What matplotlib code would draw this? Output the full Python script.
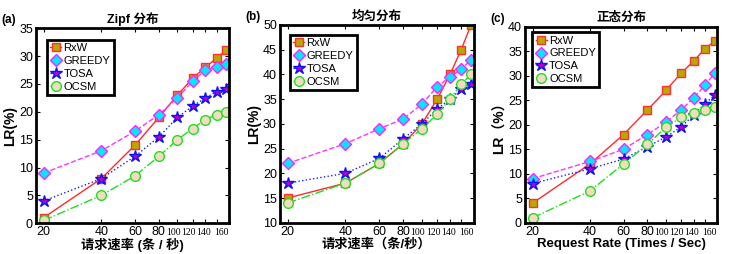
import numpy as np
import matplotlib
matplotlib.use('Agg')
import matplotlib.pyplot as plt
from matplotlib.transforms import ScaledTranslation

plt.rcParams['font.family'] = ['Liberation Sans', 'Noto Sans CJK SC']
plt.rcParams['axes.unicode_minus'] = False

# request rate (x) for every series
rates = [20, 40, 60, 80, 100, 120, 140, 160, 180]
tick_vals = [20, 40, 60, 80, 100, 120, 140, 160]
tick_labels = ['20', '40', '60', '80', '100', '120', '140', '160']

# (a) Zipf
zipf_rxw = [1, 8, 14, 19, 23, 26, 28, 29.6, 31.1]
zipf_greedy = [9, 13, 16.5, 19.5, 22.5, 25.5, 27.5, 28, 28.6]
zipf_tosa = [4, 8, 12, 15.5, 19, 21, 22.5, 23.6, 24.1]
zipf_ocsm = [0.5, 5, 8.5, 12, 15, 17, 18.6, 19.5, 20]

# (b) uniform
unif_rxw = [15, 18, 22, 26, 30, 35, 40, 45, 50]
unif_greedy = [22, 26, 29, 31, 34, 37.5, 39.5, 41, 43]
unif_tosa = [18, 20, 23, 27, 30, 33, 35, 37, 38]
unif_ocsm = [14, 18, 22, 26, 29, 32, 35, 38, 40]

# (c) normal
norm_rxw = [4, 12, 18, 23, 27, 30.5, 33, 35.5, 37]
norm_greedy = [9, 12.5, 15, 18, 20.5, 23, 25.5, 28, 30.5]
norm_tosa = [8, 11, 13, 15.5, 17.5, 19.5, 22, 24.3, 26]
norm_ocsm = [1, 6.5, 12, 16, 19.5, 21.5, 22.4, 23, 23.6]

styles = {
    'RxW': dict(color='#ff2a2a', ls='-', marker='s', mfc='#b8a800', mec='#ff3030', ms=6),
    'GREEDY': dict(color='#ff33ff', ls='--', marker='D', mfc='#00e8ff', mec='#ff22ff', ms=6),
    'TOSA': dict(color='#1a1aff', ls=':', marker='*', mfc='#c000c0', mec='#1010ff', ms=9),
    'OCSM': dict(color='#22dd22', ls='-.', marker='o', mfc='#f2dcc0', mec='#22dd22', ms=7),
}

# the small serif labels 100..160 sit a little off their ticks in the original
small_offsets = {100: -3.0, 120: -3.0, 140: -1.4, 160: 3.6}

panels = [
    dict(rect=[0.0484, 0.121, 0.262, 0.768], tag='(a)', title='Zipf 分布',
         xlabel='请求速率 (条 / 秒)', ylabel='LR(%)', ylim=(0, 35), yticks=np.arange(0, 36, 5),
         data=[zipf_rxw, zipf_greedy, zipf_tosa, zipf_ocsm], anchor=(0.057, 0.94)),
    dict(rect=[0.379, 0.123, 0.263, 0.779], tag='(b)', title='均匀分布',
         xlabel='请求速率（条/秒）', ylabel='LR(%)', ylim=(10, 50), yticks=np.arange(10, 51, 5),
         data=[unif_rxw, unif_greedy, unif_tosa, unif_ocsm], anchor=(0.052, 0.949)),
    dict(rect=[0.711, 0.123, 0.261, 0.772], tag='(c)', title='正态分布',
         xlabel='Request Rate (Times / Sec)', ylabel='LR（%）', ylim=(0, 40), yticks=np.arange(0, 41, 5),
         data=[norm_rxw, norm_greedy, norm_tosa, norm_ocsm], anchor=(0.04, 0.971)),
]

fig = plt.figure(figsize=(7.38, 2.54), dpi=100)

for p in panels:
    ax = fig.add_axes(p['rect'])
    for name, ys in zip(styles.keys(), p['data']):
        st = styles[name]
        ax.plot(rates, ys, linestyle=st['ls'], color=st['color'], lw=1.0,
                marker=st['marker'], markerfacecolor=st['mfc'], markeredgecolor=st['mec'],
                markersize=st['ms'], markeredgewidth=1.0, label=name)
    ax.set_xscale('log')
    ax.set_xlim(18.2, 186)
    ax.set_ylim(*p['ylim'])
    ax.set_yticks(p['yticks'])
    ax.set_xticks(tick_vals)
    ax.set_xticklabels(tick_labels[:4] + [''] * 4)
    ax.xaxis.set_minor_locator(matplotlib.ticker.NullLocator())
    ax.tick_params(direction='in', top=True, right=True, length=3, width=0.8,
                   labelsize=9, pad=2)
    for v, lab in zip(tick_vals[4:], tick_labels[4:]):
        tr = ax.get_xaxis_transform() + ScaledTranslation(small_offsets[v] / 72, 0, fig.dpi_scale_trans)
        ax.text(v, -0.025, lab, transform=tr, ha='center', va='top',
                fontsize=7, family='Liberation Serif')
    for s in ax.spines.values():
        s.set_linewidth(2)
    ax.set_title(p['title'], fontsize=9, fontweight='bold', pad=4)
    ax.set_xlabel(p['xlabel'], fontsize=9.5, fontweight='bold', labelpad=0)
    ax.set_ylabel(p['ylabel'], fontsize=10, fontweight='bold', labelpad=1)
    ax.text(-0.14, 1.01, p['tag'], transform=ax.transAxes, fontsize=8.5,
            fontweight='bold', ha='center', va='bottom')
    leg = ax.legend(loc='upper left', bbox_to_anchor=p['anchor'], borderaxespad=0,
                    fontsize=8, handlelength=1.0, handletextpad=0.2, labelspacing=0.25,
                    borderpad=0.3, fancybox=False, framealpha=1)
    leg.get_frame().set_edgecolor('black')
    leg.get_frame().set_linewidth(2)

fig.savefig('out.png', dpi=100)
